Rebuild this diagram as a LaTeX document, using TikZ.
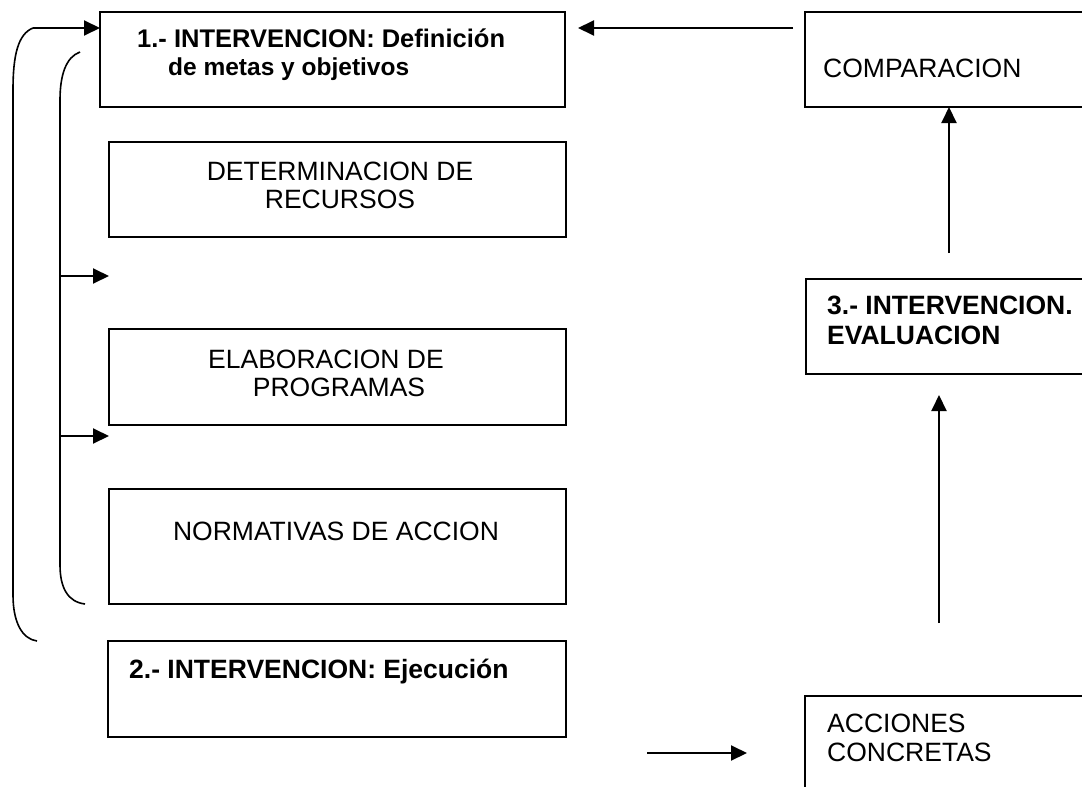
\documentclass[tikz,border=0pt]{standalone}
\usepackage{fontspec}
\setmainfont{Liberation Sans}
\usetikzlibrary{arrows.meta}
\begin{document}
\begin{tikzpicture}[x=1pt,y=-1pt,
  box/.style={draw, line width=2pt, inner sep=0pt, outer sep=0pt},
  reg/.style={inner sep=0pt, font=\fontsize{26.5}{30}\selectfont},
  bld/.style={inner sep=0pt, font=\fontsize{26.5}{30}\selectfont\bfseries},
  arr/.style={line width=2pt, -{Triangle[length=16pt,width=15pt]}},
  brk/.style={line width=1.6pt}]
\clip (0,0) rectangle (1082,787);
\fill[white] (0,0) rectangle (1082,787);
% boxes
\node[box, minimum width=465pt, minimum height=95pt] (b1) at (332.5,59.5) {};
\node[box, minimum width=457pt, minimum height=95pt] (det) at (337.5,189.5) {};
\node[box, minimum width=457pt, minimum height=96pt] (elab) at (337.5,377) {};
\node[box, minimum width=457pt, minimum height=115pt] (norm) at (337.5,546.5) {};
\node[box, minimum width=458pt, minimum height=96pt] (b2) at (337,689) {};
\node[box, minimum width=300pt, minimum height=95pt] (comp) at (955,59.5) {};
\node[box, minimum width=300pt, minimum height=95pt] (eval) at (956,326.5) {};
\node[box, minimum width=300pt, minimum height=120pt] (acc) at (955,756) {};
% texts
\node[bld, anchor=base west, font=\fontsize{25.5}{28}\selectfont\bfseries] (t1a) at (137,47) {1.- INTERVENCION: Definición};
\node[bld, anchor=base west, font=\fontsize{24.5}{28}\selectfont\bfseries] (t1b) at (168,75) {de metas y objetivos};
\node[reg, anchor=base] (tdeta) at (340,180) {DETERMINACION DE};
\node[reg, anchor=base] (tdetb) at (340,208) {RECURSOS};
\node[reg, anchor=base] (telaa) at (326,368) {ELABORACION DE};
\node[reg, anchor=base] (telab) at (339,396) {PROGRAMAS};
\node[reg, anchor=base] (tnorm) at (336,540) {NORMATIVAS DE ACCION};
\node[bld, anchor=base west] (t2) at (129,678) {2.- INTERVENCION: Ejecución};
\node[reg, anchor=base west] (tcomp) at (823,77) {COMPARACION};
\node[bld, anchor=base west] (tev1) at (827,314) {3.- INTERVENCION.};
\node[bld, anchor=base west] (tev2) at (827,344) {EVALUACION};
\node[reg, anchor=base west] (tac1) at (827,732) {ACCIONES};
\node[reg, anchor=base west] (tac2) at (827,761) {CONCRETAS};
% coordinates
\coordinate (otop) at (33,28);
\coordinate (obot) at (37,641);
\coordinate (itop) at (80,52);
\coordinate (ibot) at (85,604);
\coordinate (ia1) at (60,276);
\coordinate (ia2) at (60,436);
\coordinate (ytop) at (0,28);
\coordinate (xup) at (949,0);
\coordinate (xlo) at (939,0);
\coordinate (ybot) at (0,753);
% brackets
\draw[brk] (otop) .. controls (18,34) and (13,55) .. (13,90) -- (13,595) .. controls (13,622) and (22,639) .. (obot);
\draw[brk] (itop) .. controls (66,57) and (60,75) .. (60,100) -- (60,565) .. controls (60,588) and (68,602) .. (ibot);
% arrows
\draw[arr] (otop) -- (otop -| b1.west);
\draw[arr] (ia1) -- (ia1 -| det.west);
\draw[arr] (ia2) -- (ia2 -| det.west);
\draw[arr, shorten <=12pt, shorten >=13pt] (ytop -| comp.west) -- (ytop -| b1.east);
\draw[arr, shorten <=26pt] (xup |- eval.north) -- (xup |- comp.south);
\draw[arr, shorten <=73pt, shorten >=21pt] (xlo |- acc.north) -- (xlo |- eval.south);
\draw[arr, shorten <=81pt, shorten >=58pt] (ybot -| b2.east) -- (ybot -| acc.west);
\end{tikzpicture}
\end{document}
